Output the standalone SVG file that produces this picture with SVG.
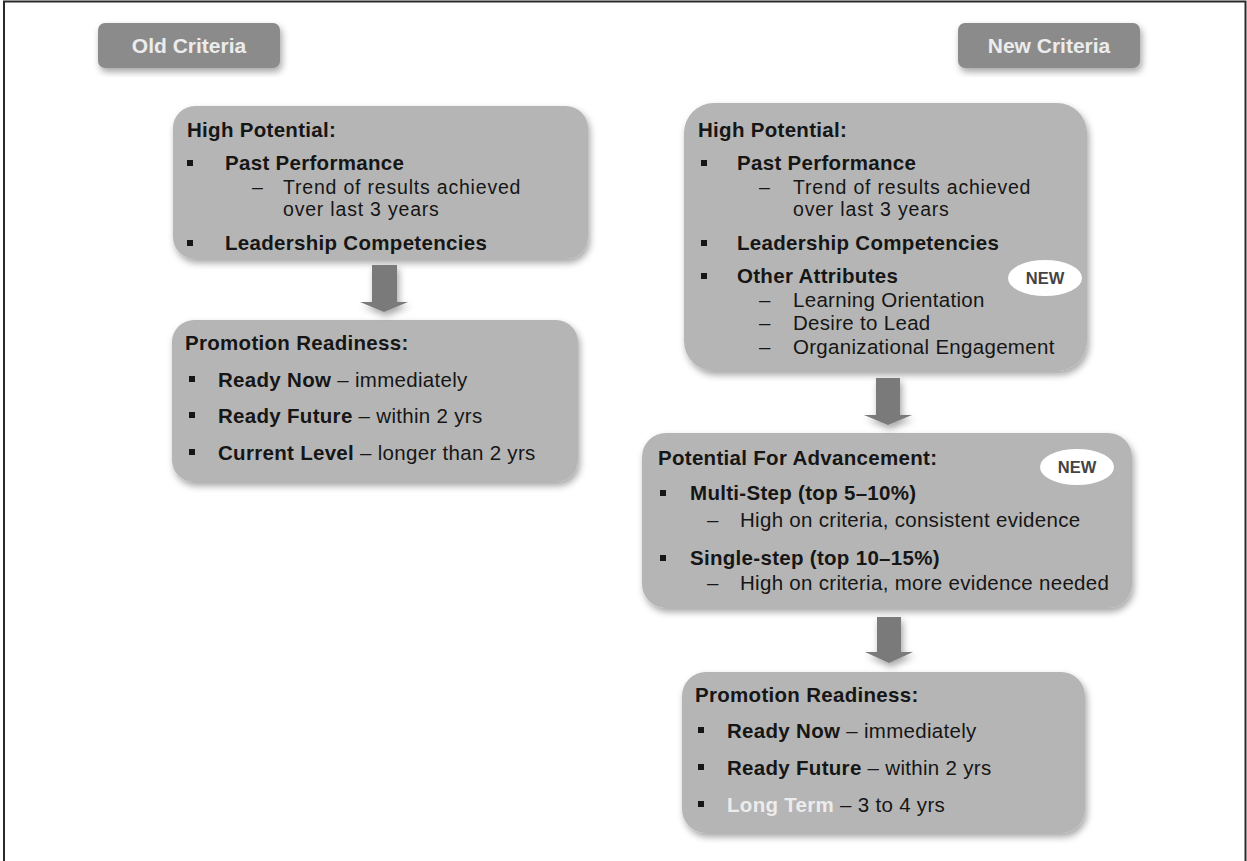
<svg xmlns="http://www.w3.org/2000/svg" width="1247" height="861" viewBox="0 0 1247 861">
<defs>
<filter id="sh" x="-10%" y="-10%" width="125%" height="130%">
<feDropShadow dx="2" dy="4" stdDeviation="3.5" flood-color="#000" flood-opacity="0.35"/>
</filter>
<style>
.box{fill:#b5b5b5;filter:url(#sh)}
.hdr{fill:#8b8b8b;filter:url(#sh)}
.hdrt{font-family:"Liberation Sans",Arial,sans-serif;font-weight:bold;font-size:21px;fill:#ececec;text-anchor:middle}
.t{font-family:"Liberation Sans",Arial,sans-serif;font-size:20.5px;letter-spacing:0.3px;fill:#161616}
.s{font-size:19.5px;letter-spacing:0.8px}
.b{font-weight:bold}
.bul{fill:#161616}
.arr{fill:#7a7a7a;filter:url(#sh)}
.new{fill:#ffffff}
.newt{font-family:"Liberation Sans",Arial,sans-serif;font-weight:bold;font-size:16.5px;fill:#444;text-anchor:middle}
.lt{fill:#ececec}
</style>
</defs>
<rect x="0" y="0" width="1247" height="861" fill="#ffffff"/>
<path d="M4,861 V1.5 H1245.5 V861" fill="none" stroke="#2a2a2a" stroke-width="2"/>

<g id="old-criteria">
<rect class="hdr" x="98" y="23" width="182" height="45" rx="7"/>
<text class="hdrt" x="189" y="53">Old Criteria</text>
</g>

<g id="new-criteria">
<rect class="hdr" x="958" y="23" width="182" height="45" rx="7"/>
<text class="hdrt" x="1049" y="53">New Criteria</text>
</g>

<g id="old-high-potential">
<rect class="box" x="173" y="106" width="415" height="153" rx="22"/>
<text class="t b" x="187" y="137">High Potential:</text>
<rect class="bul" x="187" y="160" width="6" height="6"/>
<text class="t b" x="225" y="170">Past Performance</text>
<text class="t s" x="252" y="194">–</text>
<text class="t s" x="283" y="194">Trend of results achieved</text>
<text class="t s" x="283" y="216">over last 3 years</text>
<rect class="bul" x="187" y="240" width="6" height="6"/>
<text class="t b" x="225" y="250">Leadership Competencies</text>
</g>

<g id="old-promotion-readiness">
<rect class="box" x="172" y="320" width="406" height="162" rx="22"/>
<text class="t b" x="185" y="350">Promotion Readiness:</text>
<rect class="bul" x="189" y="376" width="6" height="6"/>
<text class="t" x="218" y="387"><tspan class="b">Ready Now</tspan> – immediately</text>
<rect class="bul" x="189" y="412" width="6" height="6"/>
<text class="t" x="218" y="423"><tspan class="b">Ready Future</tspan> – within 2 yrs</text>
<rect class="bul" x="189" y="449" width="6" height="6"/>
<text class="t" x="218" y="460"><tspan class="b">Current Level</tspan> – longer than 2 yrs</text>
</g>

<g id="new-high-potential">
<rect class="box" x="684" y="103" width="403" height="268" rx="30"/>
<text class="t b" x="698" y="137">High Potential:</text>
<rect class="bul" x="701" y="160" width="6" height="6"/>
<text class="t b" x="737" y="170">Past Performance</text>
<text class="t s" x="759" y="194">–</text>
<text class="t s" x="793" y="194">Trend of results achieved</text>
<text class="t s" x="793" y="216">over last 3 years</text>
<rect class="bul" x="701" y="240" width="6" height="6"/>
<text class="t b" x="737" y="250">Leadership Competencies</text>
<rect class="bul" x="701" y="273" width="6" height="6"/>
<text class="t b" x="737" y="283">Other Attributes</text>
<text class="t" x="759" y="307">–</text>
<text class="t" x="793" y="307">Learning Orientation</text>
<text class="t" x="759" y="330">–</text>
<text class="t" x="793" y="330">Desire to Lead</text>
<text class="t" x="759" y="354">–</text>
<text class="t" x="793" y="354">Organizational Engagement</text>
<ellipse class="new" cx="1045" cy="278" rx="37" ry="18"/>
<text class="newt" x="1045" y="284">NEW</text>
</g>

<g id="potential-for-advancement">
<rect class="box" x="642" y="433" width="490" height="175" rx="24"/>
<text class="t b" x="658" y="465">Potential For Advancement:</text>
<ellipse class="new" cx="1077" cy="467" rx="37" ry="18"/>
<text class="newt" x="1077" y="473">NEW</text>
<rect class="bul" x="660" y="490" width="6" height="6"/>
<text class="t b" x="690" y="500">Multi-Step (top 5–10%)</text>
<text class="t" x="707" y="527">–</text>
<text class="t" x="740" y="527">High on criteria, consistent evidence</text>
<rect class="bul" x="660" y="555" width="6" height="6"/>
<text class="t b" x="690" y="565">Single-step (top 10–15%)</text>
<text class="t" x="707" y="590">–</text>
<text class="t" x="740" y="590">High on criteria, more evidence needed</text>
</g>

<g id="new-promotion-readiness">
<rect class="box" x="682" y="672" width="403" height="161" rx="24"/>
<text class="t b" x="695" y="702">Promotion Readiness:</text>
<rect class="bul" x="698" y="727" width="6" height="6"/>
<text class="t" x="727" y="738"><tspan class="b">Ready Now</tspan> – immediately</text>
<rect class="bul" x="698" y="764" width="6" height="6"/>
<text class="t" x="727" y="775"><tspan class="b">Ready Future</tspan> – within 2 yrs</text>
<rect class="bul" x="698" y="801" width="6" height="6"/>
<text class="t" x="727" y="812"><tspan class="b lt">Long Term</tspan> – 3 to 4 yrs</text>
</g>

<g id="connectors">
<path class="arr" d="M372,265 H397 V302 H408 L384,312 L360,302 H372 Z"/>
<path class="arr" d="M876,378 H900 V415 H912 L888,425 L864,415 H876 Z"/>
<path class="arr" d="M877,617 H901 V652 H913 L889,663 L865,652 H877 Z"/>
</g>
</svg>
